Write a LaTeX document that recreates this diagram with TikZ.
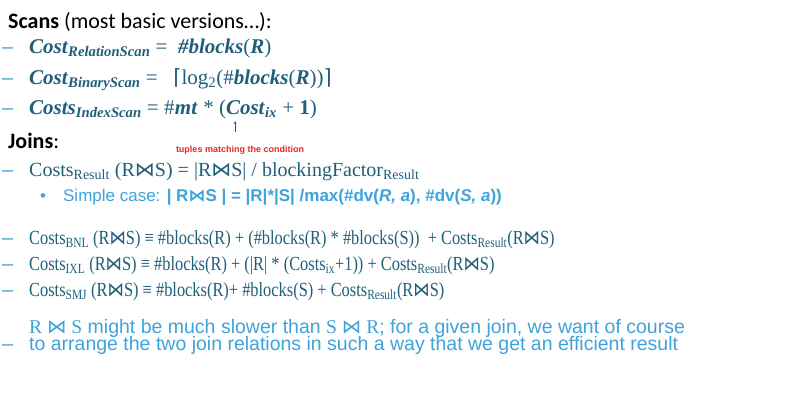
\documentclass[tikz,border=0pt]{standalone}
\usepackage{fontspec}
\setmainfont{Liberation Serif}
\newfontfamily\calib{Carlito}
\newfontfamily\arial{Liberation Sans}
\newfontfamily\djs{DejaVu Sans}
\newcommand{\bw}{{\djs ⋈}}
\newcommand{\bi}[1]{\textbf{\textit{#1}}}
\definecolor{teal}{HTML}{1F5F7A}
\definecolor{lblue}{HTML}{3EA3DA}
\definecolor{dred}{HTML}{E8242B}
\begin{document}
\begin{tikzpicture}[x=1pt,y=-1pt,
  ln/.style={anchor=base west,inner sep=0pt,text=teal},
  bul/.style={anchor=base west,inner sep=0pt,text=lblue,font=\arial\fontsize{20}{20}\selectfont}]
\useasboundingbox (0,0) rectangle (811,405);
% Scans
\node[anchor=base west,inner sep=0pt,font=\calib\fontsize{22}{22}\selectfont] (scans) at (8,28) {\textbf{Scans} (most basic versions…):};
\foreach \y/\n in {53/d1,84/d2,114/d3,176/d4,244/d5,270/d6,296/d7,350/d8}
  \node[bul] (\n) at (2,\y) {–};
\node[ln,font=\fontsize{21}{21}\selectfont] (l1) at (29,53) {\bi{Cost}\textsubscript{\bi{RelationScan}} =\ \ \bi{\#blocks}(\bi{R})};
\node[ln,font=\fontsize{21}{21}\selectfont] (l2) at (29,84) {\bi{Cost}\textsubscript{\bi{BinaryScan}} =\ \ \ {\djs ⌈}log\textsubscript{2}(\#\bi{blocks}(\bi{R})){\djs ⌉}};
\node[ln,font=\fontsize{21}{21}\selectfont] (l3) at (29,114) {\bi{Costs}\textsubscript{\bi{IndexScan}} = \#};
\node[ln,font=\fontsize{21}{21}\selectfont] (mt) at (l3.base east) {\bi{mt}};
\node[ln,font=\fontsize{21}{21}\selectfont] (l3b) at (mt.base east) {\ * (\bi{Cost}\textsubscript{\bi{ix}} + \textbf{1})};
\node[inner sep=0pt,text=dred,font=\arial\bfseries\fontsize{9}{9}\selectfont] (tup) at (240,150) {tuples matching the condition};
\coordinate (ta) at (235,132);
\draw[teal,->,>=stealth,thin] (ta) -- ++(0,-11);
% Joins
\node[anchor=base west,inner sep=0pt,font=\calib\fontsize{22}{22}\selectfont] (joins) at (8,148) {\textbf{Joins}:};
\node[ln,font=\fontsize{20}{20}\selectfont] (cr) at (29,176) {Costs\textsubscript{Result} (R\bw S) = |R\bw S| / blockingFactor\textsubscript{Result}};
\node[anchor=base west,inner sep=0pt,text=lblue,font=\arial\fontsize{17}{17}\selectfont] (sc) at (40,201) {•\quad Simple case: \textbf{| R\bw S | = |R|*|S| /max(\#dv(\textit{R, a}), \#dv(\textit{S, a}))}};
\node[ln,font=\fontsize{20}{20}\selectfont] (bnl) at (29,244) {\scalebox{0.82}[1]{Costs\textsubscript{BNL} (R\bw S) ≡ \#blocks(R) + (\#blocks(R) * \#blocks(S))\ \ + Costs\textsubscript{Result}(R\bw S)}};
\node[ln,font=\fontsize{20}{20}\selectfont] (ixl) at (29,270) {\scalebox{0.82}[1]{Costs\textsubscript{IXL} (R\bw S) ≡ \#blocks(R) + (|R| * (Costs\textsubscript{ix}+1)) + Costs\textsubscript{Result}(R\bw S)}};
\node[ln,font=\fontsize{20}{20}\selectfont] (smj) at (29,296) {\scalebox{0.82}[1]{Costs\textsubscript{SMJ} (R\bw S) ≡ \#blocks(R)+ \#blocks(S) + Costs\textsubscript{Result}(R\bw S)}};
\node[anchor=base west,inner sep=0pt,text=lblue,font=\arial\fontsize{19.5}{19.5}\selectfont,align=left] (last) at (29,350) {{\rmfamily R \bw\ S} might be much slower than {\rmfamily S \bw\ R}; for a given join, we want of course\\[-3pt]to arrange the two join relations in such a way that we get an efficient result};
\end{tikzpicture}
\end{document}
